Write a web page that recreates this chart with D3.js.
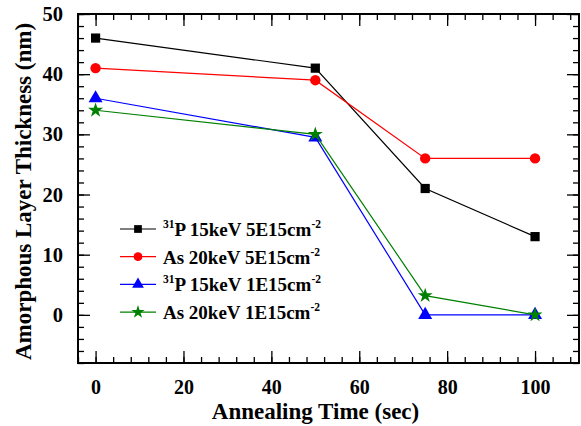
<!DOCTYPE html>
<meta charset="utf-8">
<style>
  body { margin: 0; background: #fff; }
  text { font-family: "Liberation Serif", "Times New Roman", serif; font-weight: bold; }
  .axis path, .axis line { stroke: #000; }
</style>
<svg width="581" height="426"></svg>
<script src="https://cdn.jsdelivr.net/npm/d3@7"></script>
<script>
  var times = [0, 50, 75, 100];
  var p5 = [46, 41, 21, 13];
  var as5 = [41, 39, 26, 26];
  var p1 = [36, 29.5, 0, 0];
  var as1 = [34, 30, 3.2, 0];
  var xTicks = [0, 20, 40, 60, 80, 100];
  var yTicks = [0, 10, 20, 30, 40, 50];

  var series = [
    {iso: "31", name: "P 15keV 5E15cm", vals: p5, color: "#000", sym: d3.symbolSquare},
    {iso: "", name: "As 20keV 5E15cm", vals: as5, color: "#f00", sym: d3.symbolCircle},
    {iso: "31", name: "P 15keV 1E15cm", vals: p1, color: "#00f", sym: d3.symbolTriangle},
    {iso: "", name: "As 20keV 1E15cm", vals: as1, color: "#008000", sym: d3.symbolStar}
  ];

  var svg = d3.select("svg");
  var pl = 78, pr = 579, pt = 14, pb = 363;

  var x = d3.scaleLinear().domain([-4, 110]).range([pl, pr]);
  var y = d3.scaleLinear().domain([-8, 50]).range([pb, pt]);

  var minorX = d3.range(-4, 110, 4), minorY = d3.range(-8, 51, 2);

  // minor ticks
  svg.append("g").attr("class", "axis").attr("transform", "translate(0," + pb + ")")
    .call(d3.axisBottom(x).tickValues(minorX).tickSize(-6).tickFormat(""))
    .select(".domain").remove();
  svg.append("g").attr("class", "axis").attr("transform", "translate(0," + pt + ")")
    .call(d3.axisTop(x).tickValues(minorX).tickSize(-6).tickFormat(""))
    .select(".domain").remove();
  svg.append("g").attr("class", "axis").attr("transform", "translate(" + pl + ",0)")
    .call(d3.axisLeft(y).tickValues(minorY).tickSize(-6).tickFormat(""))
    .select(".domain").remove();
  svg.append("g").attr("class", "axis").attr("transform", "translate(" + pr + ",0)")
    .call(d3.axisRight(y).tickValues(minorY).tickSize(-6).tickFormat(""))
    .select(".domain").remove();

  // major ticks with labels
  var xa = svg.append("g").attr("class", "axis").attr("transform", "translate(0," + pb + ")")
    .call(d3.axisBottom(x).tickValues(xTicks).tickSize(-12).tickPadding(17));
  xa.select(".domain").remove();
  xa.selectAll("text").attr("font-size", 20).attr("fill", "#000");
  svg.append("g").attr("class", "axis").attr("transform", "translate(0," + pt + ")")
    .call(d3.axisTop(x).tickValues(xTicks).tickSize(-12).tickFormat(""))
    .select(".domain").remove();
  var ya = svg.append("g").attr("class", "axis").attr("transform", "translate(" + pl + ",0)")
    .call(d3.axisLeft(y).tickValues(yTicks).tickSize(-12).tickPadding(15));
  ya.select(".domain").remove();
  ya.selectAll("text").attr("font-size", 20.5).attr("fill", "#000");
  svg.append("g").attr("class", "axis").attr("transform", "translate(" + pr + ",0)")
    .call(d3.axisRight(y).tickValues(yTicks).tickSize(-12).tickFormat(""))
    .select(".domain").remove();

  svg.selectAll(".axis line").attr("stroke-width", 1.3);

  // frame
  svg.append("rect").attr("x", pl).attr("y", pt)
    .attr("width", pr - pl).attr("height", pb - pt)
    .attr("fill", "none").attr("stroke", "#000").attr("stroke-width", 2);

  var line = d3.line().x(function(d) { return x(d[0]); }).y(function(d) { return y(d[1]); });

  series.forEach(function(s) {
    var pts = times.map(function(t, i) { return [t, s.vals[i]]; });
    svg.append("path").datum(pts).attr("d", line)
      .attr("fill", "none").attr("stroke", s.color).attr("stroke-width", 1.2);
    svg.selectAll(null).data(pts).enter().append("path")
      .attr("d", d3.symbol().type(s.sym).size(s.sym === d3.symbolStar ? 70 : 85))
      .attr("transform", function(d) { return "translate(" + x(d[0]) + "," + y(d[1]) + ")"; })
      .attr("fill", s.color);
  });

  // legend
  var lg = svg.append("g");
  series.forEach(function(s, i) {
    var ly = 229 + i * 27.7;
    lg.append("line").attr("x1", 120).attr("x2", 156).attr("y1", ly).attr("y2", ly)
      .attr("stroke", s.color).attr("stroke-width", 1.2);
    lg.append("path").attr("d", d3.symbol().type(s.sym).size(s.sym === d3.symbolStar ? 55 : 60))
      .attr("transform", "translate(138," + ly + ")").attr("fill", s.color);
    var t = lg.append("text").attr("x", 163).attr("y", ly + 7).attr("font-size", 19).attr("fill", "#000");
    if (s.iso) t.append("tspan").attr("font-size", 11.5).attr("dy", -8).text(s.iso);
    t.append("tspan").attr("dy", s.iso ? 8 : 0).text(s.name);
    t.append("tspan").attr("font-size", 11.5).attr("dy", -8).text("-2");
  });

  // axis titles
  svg.append("text").attr("x", (pl + pr) / 2 - 13).attr("y", 419)
    .attr("text-anchor", "middle").attr("font-size", 23).text("Annealing Time (sec)");
  svg.append("text").attr("transform", "translate(31," + ((pt + pb) / 2 + 3) + ") rotate(-90)")
    .attr("text-anchor", "middle").attr("font-size", 23).text("Amorphous Layer Thickness (nm)");
</script>
